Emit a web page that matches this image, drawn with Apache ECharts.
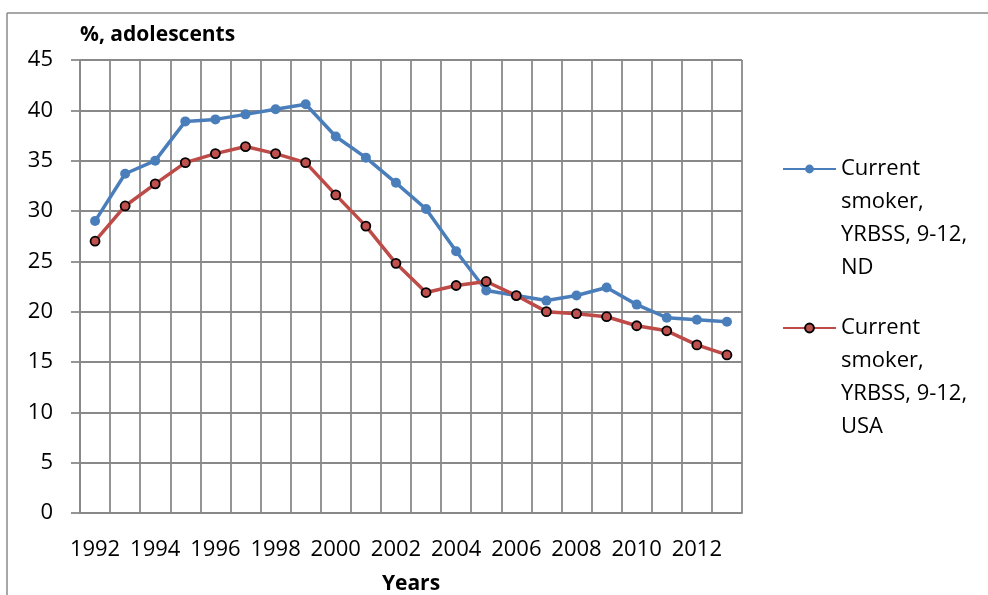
<!DOCTYPE html>
<html>
<head>
<meta charset="utf-8">
<title>Current smokers, adolescents</title>
<script src="https://cdn.jsdelivr.net/npm/echarts@6.0.0/dist/echarts.min.js"></script>
<style>
    html, body {
        margin: 0;
        padding: 0;
        background: #fff;
    }
    #chart {
        width: 988px;
        height: 595px;
    }
</style>
</head>
<body>
<div id="chart"></div>
<script>
// survey years (one point per year)
const years = ["1992", "1993", "1994", "1995", "1996", "1997", "1998", "1999", "2000", "2001", "2002",
    "2003", "2004", "2005", "2006", "2007", "2008", "2009", "2010", "2011", "2012", "2013"];

// % current smokers, grades 9-12
const ndValues = [29.0, 33.7, 35.0, 38.9, 39.1, 39.6, 40.1, 40.6, 37.4, 35.3, 32.8,
    30.2, 26.0, 22.1, 21.6, 21.1, 21.6, 22.4, 20.7, 19.4, 19.2, 19.0];
const usaValues = [27.0, 30.5, 32.7, 34.8, 35.7, 36.4, 35.7, 34.8, 31.6, 28.5, 24.8,
    21.9, 22.6, 23.0, 21.6, 20.0, 19.8, 19.5, 18.6, 18.1, 16.7, 15.7];

const ndName = "Current\nsmoker,\nYRBSS, 9-12,\nND";
const usaName = "Current\nsmoker,\nYRBSS, 9-12,\nUSA";

const font = "'Open Sans', 'Liberation Sans', sans-serif";
const gridGray = "#898989";

// legend text is centred on the symbol, so push three blank lines above it:
// the first real line then sits level with the marker
const legendText = {
    fontFamily: font,
    fontSize: 22,
    lineHeight: 33,
    color: "#000",
};
const hangText = (name) => "\n\n\n" + name;

const chart = echarts.init(document.getElementById("chart"));

const option = {
    animation: false,
    backgroundColor: "#fff",
    textStyle: { fontFamily: font },
    grid: {
        left: 80,
        right: 246,
        top: 60,
        bottom: 82,
        outerBoundsMode: "none",
    },
    legend: [
        {
            data: [ndName],
            orient: "vertical",
            left: 782,
            top: 53.5,
            padding: 0,
            itemWidth: 53,
            itemHeight: 11,
            formatter: hangText,
            textStyle: legendText,
        },
        {
            data: [usaName],
            orient: "vertical",
            left: 782,
            top: 212.5,
            padding: 0,
            itemWidth: 53,
            itemHeight: 11,
            formatter: hangText,
            textStyle: legendText,
        },
    ],
    xAxis: {
        type: "category",
        data: years,
        boundaryGap: true,
        name: "Years",
        nameLocation: "middle",
        nameGap: 61,
        nameTextStyle: {
            fontFamily: font,
            fontSize: 21,
            fontWeight: "bold",
            color: "#000",
        },
        axisLine: { lineStyle: { color: gridGray, width: 1.8 } },
        axisTick: {
            interval: 0,
            length: 9,
            lineStyle: { color: gridGray, width: 1.8 },
        },
        axisLabel: {
            interval: 1,
            margin: 26,
            fontFamily: font,
            fontSize: 22,
            color: "#000",
        },
        splitLine: {
            show: true,
            interval: 0,
            lineStyle: { color: gridGray, width: 1.8 },
        },
    },
    yAxis: {
        type: "value",
        min: 0,
        max: 45,
        interval: 5,
        name: "%, adolescents",
        nameLocation: "end",
        nameGap: 25,
        nameTextStyle: {
            fontFamily: font,
            fontSize: 21,
            fontWeight: "bold",
            color: "#000",
            align: "left",
            verticalAlign: "middle",
        },
        axisLine: { show: true, lineStyle: { color: gridGray, width: 1.8 } },
        axisTick: {
            show: true,
            length: 9,
            lineStyle: { color: gridGray, width: 1.8 },
        },
        axisLabel: {
            margin: 27,
            fontFamily: font,
            fontSize: 22,
            color: "#000",
        },
        splitLine: {
            show: true,
            lineStyle: { color: gridGray, width: 1.8 },
        },
    },
    series: [
        {
            name: ndName,
            type: "line",
            data: ndValues,
            symbol: "circle",
            symbolSize: 10,
            lineStyle: { color: "#4A7EBB", width: 3.5 },
            itemStyle: { color: "#4A7EBB", borderWidth: 0 },
        },
        {
            name: usaName,
            type: "line",
            data: usaValues,
            symbol: "circle",
            symbolSize: 9,
            lineStyle: { color: "#BE4B48", width: 3.5 },
            itemStyle: { color: "#C0504D", borderColor: "#000", borderWidth: 1.8 },
        },
    ],
    // frame of the chart box (left and top edges only are in view)
    graphic: [
        {
            type: "line",
            shape: { x1: 7, y1: 13, x2: 988, y2: 13 },
            style: { stroke: "#8a8a8a", lineWidth: 1.5 },
        },
        {
            type: "line",
            shape: { x1: 7, y1: 13, x2: 7, y2: 595 },
            style: { stroke: "#8a8a8a", lineWidth: 1.5 },
        },
    ],
};

chart.setOption(option);
</script>
</body>
</html>
